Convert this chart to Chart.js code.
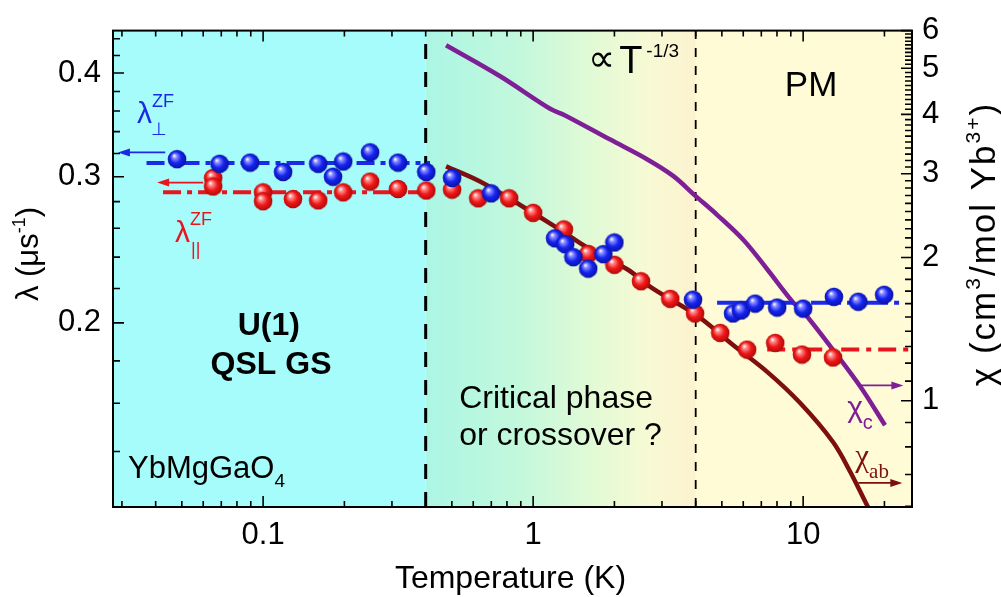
<!DOCTYPE html>
<html lang="en">
  <head>
    <meta charset="UTF-8" />
    <title>YbMgGaO4 zero-field relaxation rate and susceptibility</title>
    <script src="https://cdn.jsdelivr.net/npm/chart.js"></script>
    <style>
      html, body { margin: 0; padding: 0; background: #ffffff; }
    </style>
  </head>
  <body>
    <canvas id="muChart" width="1001" height="597"></canvas>

    <script>
      // lambda_perp^ZF (blue balls)
      var tPerp = [0.048, 0.069, 0.0895, 0.1186, 0.16, 0.1815, 0.198, 0.249, 0.316, 0.402, 0.501, 0.699,
                   1.206, 1.314, 1.41, 1.6, 1.82, 2.0,
                   3.91, 5.5, 5.89, 6.64, 8.01, 10.0, 13.0, 16.0, 19.95];
      var lamPerp = [0.315, 0.311, 0.312, 0.304, 0.311, 0.300, 0.313, 0.321, 0.312, 0.304, 0.299, 0.2865,
                     0.2529, 0.2488, 0.240, 0.2325, 0.242, 0.250,
                     0.2133, 0.2053, 0.207, 0.211, 0.2087, 0.2081, 0.215, 0.2121, 0.2162];

      // lambda_par^ZF (red balls)
      var tPar = [0.0653, 0.0653, 0.1, 0.1, 0.129, 0.16, 0.198, 0.249, 0.316, 0.402, 0.501, 0.626, 0.815,
                  1.0, 1.30, 1.6, 2.0, 2.51, 3.22, 3.98, 4.93, 6.20, 7.88, 9.9, 12.9];
      var lamPar = [0.299, 0.292, 0.2873, 0.2803, 0.282, 0.281, 0.2873, 0.296, 0.290, 0.2888, 0.2895, 0.2826, 0.2826,
                    0.2714, 0.2592, 0.2422, 0.235, 0.2245, 0.2138, 0.2053, 0.1945, 0.1857, 0.1892, 0.1832, 0.1817];

      // chi_c (purple) and chi_ab (brown), right axis
      var tChiC = [0.476, 0.755, 1.156, 1.314, 1.93, 2.64, 3.30, 3.98, 4.80, 6.0, 7.36, 9.18, 9.9, 12.9, 16.3, 20.1];
      var chiC = [5.59, 4.81, 4.11, 3.98, 3.54, 3.22, 2.97, 2.70, 2.46, 2.18, 1.89, 1.61, 1.55, 1.28, 1.07, 0.888];
      var tChiAb = [0.476, 0.636, 0.895, 1.227, 1.585, 2.23, 2.78, 4.05, 5.50, 7.36, 9.75, 12.9, 14.9, 17.4, 19.3];
      var chiAb = [3.11, 2.89, 2.58, 2.31, 2.10, 1.89, 1.72, 1.51, 1.31, 1.15, 0.989, 0.819, 0.711, 0.597, 0.535];

      // constant guide lines (dash-dot)
      var tPerpLow = [0.037, 0.415];
      var lamPerpLow = [0.3116, 0.3116];
      var tParLow = [0.0426, 0.40];
      var lamParLow = [0.2873, 0.2873];
      var tPerpHigh = [4.8, 23.3];
      var lamPerpHigh = [0.2115, 0.2115];
      var tParHigh = [7.36, 25.3];
      var lamParHigh = [0.1857, 0.1857];

      // phase boundaries (K)
      var phaseBounds = [0.4, 4];

      // axis ranges and labelled ticks
      var xRange = [0.0278, 25.3];
      var yRange = [0.12, 0.45];
      var y2Range = [0.598, 6];
      var xTickLabels = [0.1, 1, 10];
      var yTickLabels = [0.2, 0.3, 0.4];
      var y2TickLabels = [1, 2, 3, 4, 5, 6];

      var FONT = "'Liberation Sans', Arial, Helvetica, sans-serif";
      var SERIF = "'Liberation Serif', 'Times New Roman', serif";

      function pts(xs, ys) {
        return xs.map(function (x, i) { return { x: x, y: ys[i] }; });
      }

      function makeBall(light, base, dark) {
        var c = document.createElement("canvas");
        c.width = 20;
        c.height = 20;
        var g = c.getContext("2d");
        var grd = g.createRadialGradient(7, 6.4, 0.3, 10, 10, 10);
        grd.addColorStop(0, "#ffffff");
        grd.addColorStop(0.2, light);
        grd.addColorStop(0.55, base);
        grd.addColorStop(1, dark);
        g.fillStyle = grd;
        g.beginPath();
        g.arc(10, 10, 9.3, 0, Math.PI * 2);
        g.fill();
        return c;
      }

      var blueBall = makeBall("#8a8cff", "#1424f0", "#0a0f9a");
      var redBall = makeBall("#ff8a8a", "#f01818", "#a80808");

      // draw text made of pieces (sub/superscripts)
      function richText(ctx, parts, x, y, align) {
        var total = 0;
        parts.forEach(function (p) {
          ctx.font = (p.bold ? "bold " : "") + p.size + "px " + (p.family || FONT);
          p.w = ctx.measureText(p.t).width;
          if (!p.stay) total += p.w;
        });
        var cx = align === "center" ? x - total / 2 : x;
        parts.forEach(function (p) {
          ctx.font = (p.bold ? "bold " : "") + p.size + "px " + (p.family || FONT);
          ctx.fillText(p.t, cx + (p.dx || 0), y + (p.dy || 0));
          if (!p.stay) cx += p.w;
        });
      }

      function arrow(ctx, x1, x2, y, color) {
        var dir = x2 > x1 ? 1 : -1;
        ctx.strokeStyle = color;
        ctx.fillStyle = color;
        ctx.lineWidth = 1.8;
        ctx.beginPath();
        ctx.moveTo(x1, y);
        ctx.lineTo(x2 - dir * 8, y);
        ctx.stroke();
        ctx.beginPath();
        ctx.moveTo(x2, y);
        ctx.lineTo(x2 - dir * 12, y - 4);
        ctx.lineTo(x2 - dir * 12, y + 4);
        ctx.closePath();
        ctx.fill();
      }

      var backgroundPlugin = {
        id: "phaseBackground",
        beforeDraw: function (chart) {
          var ctx = chart.ctx, a = chart.chartArea, x = chart.scales.x;
          var x1 = x.getPixelForValue(phaseBounds[0]);
          var x2 = x.getPixelForValue(phaseBounds[1]);
          ctx.save();
          ctx.fillStyle = "#a6fbfb";
          ctx.fillRect(a.left, a.top, x1 - a.left, a.bottom - a.top);
          var g = ctx.createLinearGradient(x1, 0, x2, 0);
          g.addColorStop(0, "#abf6e4");
          g.addColorStop(0.35, "#c3f8dc");
          g.addColorStop(0.6, "#e0fad6");
          g.addColorStop(0.82, "#f6fad4");
          g.addColorStop(1, "#fdf2cf");
          ctx.fillStyle = g;
          ctx.fillRect(x1, a.top, x2 - x1, a.bottom - a.top);
          ctx.fillStyle = "#fffbd7";
          ctx.fillRect(x2, a.top, a.right - x2, a.bottom - a.top);
          ctx.restore();
        },
      };

      var frameAndTextPlugin = {
        id: "frameAndText",
        afterDraw: function (chart) {
          var ctx = chart.ctx, a = chart.chartArea;
          var sx = chart.scales.x, sy = chart.scales.y, sy2 = chart.scales.y2;
          ctx.save();

          // frame
          ctx.strokeStyle = "#000";
          ctx.lineWidth = 2;
          ctx.strokeRect(a.left, a.top, a.right - a.left, a.bottom - a.top);

          // inward ticks
          ctx.lineWidth = 1.6;
          ctx.beginPath();
          [0.01, 0.1, 1, 10].forEach(function (d) {
            for (var k = 1; k <= 9; k++) {
              var v = k * d;
              if (v < xRange[0] || v > xRange[1]) continue;
              var px = sx.getPixelForValue(v);
              var len = k === 1 ? 11 : 6;
              ctx.moveTo(px, a.bottom);
              ctx.lineTo(px, a.bottom - len);
              ctx.moveTo(px, a.top);
              ctx.lineTo(px, a.top + len);
            }
          });
          for (var i = 6; i <= 22; i++) {
            var v = i * 0.02;
            var py = sy.getPixelForValue(v);
            var major = i === 10 || i === 15 || i === 20;
            ctx.moveTo(a.left, py);
            ctx.lineTo(a.left + (major ? 11 : 7), py);
          }
          for (var j = 6; j <= 60; j++) {
            var w = j / 10;
            var py2 = sy2.getPixelForValue(w);
            var maj = j % 10 === 0;
            ctx.moveTo(a.right, py2);
            ctx.lineTo(a.right - (maj ? 11 : 7), py2);
          }
          ctx.stroke();

          // axis titles
          ctx.fillStyle = "#000";
          ctx.textBaseline = "alphabetic";
          richText(ctx, [{ t: "Temperature (K)", size: 32 }], (a.left + a.right) / 2 - 2, 588, "center");

          ctx.save();
          ctx.translate(38, 254);
          ctx.rotate(-Math.PI / 2);
          richText(ctx, [
            { t: "\u03bb (\u03bcs", size: 31 },
            { t: "-1", size: 18, dy: -13 },
            { t: ")", size: 31 },
          ], 0, 0, "center");
          ctx.restore();

          ctx.save();
          ctx.translate(995, 244);
          ctx.rotate(-Math.PI / 2);
          ctx.letterSpacing = "2px";
          richText(ctx, [
            { t: "\u03c7 (cm", size: 35 },
            { t: "3", size: 21, dy: -15 },
            { t: "/mol Yb", size: 35 },
            { t: "3+", size: 21, dy: -15 },
            { t: ")", size: 35 },
          ], 0, 0, "center");
          ctx.letterSpacing = "0px";
          ctx.restore();

          // annotations placed in data coordinates
          function P(t, lam) { return [sx.getPixelForValue(t), sy.getPixelForValue(lam)]; }
          function P2(t, chi) { return [sx.getPixelForValue(t), sy2.getPixelForValue(chi)]; }

          var p = P(0.0341, 0.348);
          ctx.fillStyle = "#1a2ae6";
          richText(ctx, [
            { t: "\u03bb", size: 30 },
            { t: "\u22a5", size: 18, dy: 12, dx: -1, stay: true },
            { t: "ZF", size: 18, dy: -16 },
          ], p[0], p[1], "left");

          p = P(0.0472, 0.250);
          ctx.fillStyle = "#e8141e";
          richText(ctx, [
            { t: "\u03bb", size: 30 },
            { t: "||", size: 18, dy: 13, dx: 1, stay: true },
            { t: "ZF", size: 18, dy: -17 },
          ], p[0], p[1], "left");

          ctx.fillStyle = "#000";
          p = P(0.105, 0.1934);
          richText(ctx, [{ t: "U(1)", size: 32, bold: true }], p[0], p[1], "center");
          p = P(0.107, 0.1736);
          richText(ctx, [{ t: "QSL GS", size: 32, bold: true }], p[0], p[1], "center");
          p = P(0.0316, 0.1299);
          richText(ctx, [{ t: "YbMgGaO", size: 31 }, { t: "4", size: 19, dy: 9 }], p[0], p[1], "left");
          p = P(0.532, 0.158);
          richText(ctx, [{ t: "Critical phase", size: 32 }], p[0], p[1], "left");
          p = P(0.532, 0.1424);
          richText(ctx, [{ t: "or crossover ?", size: 32 }], p[0], p[1], "left");
          p = P(1.654, 0.4);
          richText(ctx, [
            { t: "\u221d", size: 38, dy: -2, dx: -4 },
            { t: "T", size: 38, dx: 0 },
            { t: "-1/3", size: 19, dy: -16, dx: 4 },
          ], p[0], p[1], "left");
          p = P(10.7, 0.3757);
          richText(ctx, [{ t: "PM", size: 35 }], p[0], p[1], "center");

          p = P(14.55, 0.154);
          ctx.fillStyle = "#7e1f96";
          richText(ctx, [{ t: "\u03c7", size: 30 }, { t: "c", size: 20, dy: 12 }], p[0], p[1], "left");
          p = P(15.6, 0.1345);
          ctx.fillStyle = "#7d0f0f";
          richText(ctx, [
            { t: "\u03c7", size: 31, family: SERIF },
            { t: "ab", size: 21, dy: 12, family: SERIF },
          ], p[0], p[1], "left");

          // arrows pointing to the relevant axis
          var s = P(0.0434, 0.3209), e = P(0.029, 0.3209);
          arrow(ctx, s[0], e[0], s[1], "#1a2ae6");
          s = P(0.060, 0.2952); e = P(0.0405, 0.2952);
          arrow(ctx, s[0], e[0], s[1], "#e8141e");
          s = P2(16.3, 1.077); e = P2(23.5, 1.077);
          arrow(ctx, s[0], e[0], s[1], "#7e1f96");
          s = P2(16.0, 0.672); e = P2(23.3, 0.672);
          arrow(ctx, s[0], e[0], s[1], "#7d0f0f");

          ctx.restore();
        },
      };

      var tickFont = { family: FONT, size: 31 };

      var muChart = new Chart(document.getElementById("muChart").getContext("2d"), {
        type: "scatter",
        data: {
          datasets: [
            {
              label: "lambda perp",
              data: pts(tPerp, lamPerp),
              yAxisID: "y",
              pointStyle: blueBall,
              pointRadius: 9,
              showLine: false,
              order: 0,
            },
            {
              label: "lambda par",
              data: pts(tPar, lamPar),
              yAxisID: "y",
              pointStyle: redBall,
              pointRadius: 9,
              showLine: false,
              order: 0,
            },
            {
              label: "chi c",
              data: pts(tChiC, chiC),
              yAxisID: "y2",
              showLine: true,
              pointRadius: 0,
              borderColor: "#7e1f96",
              borderWidth: 4.5,
              tension: 0.35,
              order: 2,
            },
            {
              label: "chi ab",
              data: pts(tChiAb, chiAb),
              yAxisID: "y2",
              showLine: true,
              pointRadius: 0,
              borderColor: "#7d0f0f",
              borderWidth: 4.5,
              tension: 0.35,
              order: 2,
            },
            {
              label: "perp low T",
              data: pts(tPerpLow, lamPerpLow),
              yAxisID: "y",
              showLine: true,
              pointRadius: 0,
              borderColor: "#1a2ae6",
              borderWidth: 4,
              borderDash: [18, 6, 5, 6],
              order: 1,
            },
            {
              label: "par low T",
              data: pts(tParLow, lamParLow),
              yAxisID: "y",
              showLine: true,
              pointRadius: 0,
              borderColor: "#e8141e",
              borderWidth: 4,
              borderDash: [18, 6, 5, 6],
              order: 1,
            },
            {
              label: "perp high T",
              data: pts(tPerpHigh, lamPerpHigh),
              yAxisID: "y",
              showLine: true,
              pointRadius: 0,
              borderColor: "#1a2ae6",
              borderWidth: 4,
              borderDash: [30, 6, 5, 6],
              order: 1,
            },
            {
              label: "par high T",
              data: pts(tParHigh, lamParHigh),
              yAxisID: "y",
              showLine: true,
              pointRadius: 0,
              borderColor: "#e8141e",
              borderWidth: 4,
              borderDash: [18, 7, 5, 7],
              order: 1,
            },
            {
              label: "boundary 0.4 K",
              data: pts([phaseBounds[0], phaseBounds[0]], yRange),
              yAxisID: "y",
              showLine: true,
              pointRadius: 0,
              borderColor: "#000",
              borderWidth: 3,
              borderDash: [15, 13],
              order: 3,
            },
            {
              label: "boundary 4 K",
              data: pts([phaseBounds[1], phaseBounds[1]], yRange),
              yAxisID: "y",
              showLine: true,
              pointRadius: 0,
              borderColor: "#000",
              borderWidth: 1.8,
              borderDash: [9, 9],
              order: 3,
            },
          ],
        },
        options: {
          responsive: false,
          animation: false,
          layout: { autoPadding: false, padding: { top: 18, left: 0, right: 0, bottom: 0 } },
          plugins: {
            legend: { display: false },
            tooltip: { enabled: false },
          },
          scales: {
            x: {
              type: "logarithmic",
              position: "bottom",
              min: xRange[0],
              max: xRange[1],
              afterBuildTicks: function (s) {
                s.ticks = xTickLabels.map(function (v) { return { value: v }; });
              },
              afterFit: function (s) { s.height = 90; },
              ticks: {
                font: tickFont,
                color: "#000",
                padding: 10,
                maxRotation: 0,
                autoSkip: false,
                callback: function (v) { return String(v); },
              },
              grid: { display: false, drawTicks: false },
              border: { display: false },
            },
            y: {
              type: "logarithmic",
              position: "left",
              min: yRange[0],
              max: yRange[1],
              afterBuildTicks: function (s) {
                s.ticks = yTickLabels.map(function (v) { return { value: v }; });
              },
              afterFit: function (s) { s.width = 113; },
              ticks: {
                font: tickFont,
                color: "#000",
                padding: 12,
                autoSkip: false,
                callback: function (v) { return v.toFixed(1); },
              },
              grid: { display: false, drawTicks: false },
              border: { display: false },
            },
            y2: {
              type: "logarithmic",
              position: "right",
              min: y2Range[0],
              max: y2Range[1],
              afterBuildTicks: function (s) {
                s.ticks = y2TickLabels.map(function (v) { return { value: v }; });
              },
              afterFit: function (s) { s.width = 89; },
              ticks: {
                font: tickFont,
                color: "#000",
                padding: 10,
                autoSkip: false,
                callback: function (v) { return String(v); },
              },
              grid: { display: false, drawTicks: false },
              border: { display: false },
            },
          },
        },
        plugins: [backgroundPlugin, frameAndTextPlugin],
      });
    </script>
  </body>
</html>
